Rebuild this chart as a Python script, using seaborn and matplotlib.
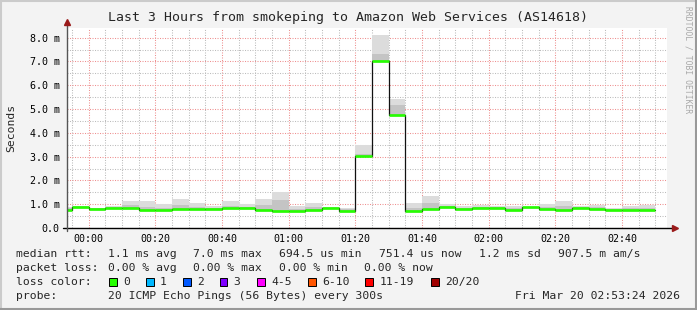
import matplotlib
matplotlib.use("Agg")
import matplotlib.pyplot as plt
import seaborn as sns
import pandas as pd
from matplotlib.lines import Line2D
from matplotlib.patches import Rectangle

# ---------------- data (minutes relative to 00:00, RTT in ms) ----------------
step_start = [-10, -5, 0, 5, 10, 15, 20, 25, 30, 35, 40, 45, 50, 55, 60, 65, 70, 75,
              80, 85, 90, 95, 100, 105, 110, 115, 120, 125, 130, 135, 140, 145, 150,
              155, 160, 165]
data_end = 170
median_ms = [0.77, 0.87, 0.78, 0.83, 0.83, 0.74, 0.74, 0.78, 0.78, 0.78, 0.83, 0.83,
             0.74, 0.70, 0.70, 0.74, 0.83, 0.70, 3.01, 7.00, 4.73, 0.70, 0.78, 0.87,
             0.78, 0.83, 0.83, 0.74, 0.87, 0.78, 0.74, 0.83, 0.78, 0.74, 0.74, 0.74]
smoke_mid_ms = [0.84, 0.89, 0.82, 0.88, 0.95, 0.90, 0.86, 0.98, 0.90, 0.86, 0.94, 0.90,
                0.95, 1.18, 0.80, 0.90, 0.86, 0.78, 3.12, 7.30, 5.17, 0.85, 1.05, 0.94,
                0.86, 0.89, 0.87, 0.84, 0.89, 0.90, 0.92, 0.87, 0.87, 0.79, 0.82, 0.84]
smoke_hi_ms = [0.90, 0.92, 0.85, 0.94, 1.12, 1.15, 1.00, 1.23, 1.06, 0.94, 1.12, 1.00,
               1.23, 1.50, 0.92, 1.06, 0.88, 0.85, 3.47, 8.10, 5.43, 1.06, 1.33, 1.02,
               0.94, 0.95, 0.92, 0.91, 0.90, 1.02, 1.12, 0.92, 0.95, 0.83, 0.91, 0.95]

x_major = [0, 20, 40, 60, 80, 100, 120, 140, 160]
x_labels = ["00:00", "00:20", "00:40", "01:00", "01:20", "01:40", "02:00", "02:20", "02:40"]
x_minor = [-5, 5, 10, 15, 25, 30, 35, 45, 50, 55, 65, 70, 75, 85, 90, 95, 105, 110,
           115, 125, 130, 135, 145, 150, 155, 165, 170]
y_major = [0, 1, 2, 3, 4, 5, 6, 7, 8]
y_labels = ["0.0", "1.0 m", "2.0 m", "3.0 m", "4.0 m", "5.0 m", "6.0 m", "7.0 m", "8.0 m"]
y_minor = [0.5, 1.5, 2.5, 3.5, 4.5, 5.5, 6.5, 7.5, 8.0]

title = "Last 3 Hours from smokeping to Amazon Web Services (AS14618)"
rtt_stats = ["1.1 ms avg", "7.0 ms max", "694.5 us min", "751.4 us now", "1.2 ms sd",
             "907.5 m am/s"]
loss_stats = ["0.00 % avg", "0.00 % max", "0.00 % min", "0.00 % now"]
loss_labels = ["0", "1", "2", "3", "4-5", "6-10", "11-19", "20/20"]
loss_colors = ["#26ff00", "#00b8ff", "#0059ff", "#7e00ff", "#ff00ff", "#ff5500",
               "#ff0000", "#a00000"]
probe_text = "20 ICMP Echo Pings (56 Bytes) every 300s"
stamp_text = "Fri Mar 20 02:53:24 2026"

# ---------------- figure ----------------
W, H = 697, 310
sns.set_theme(style="white")
plt.rcParams["font.family"] = ["DejaVu Sans Mono", "DejaVu Sans"]

fig = plt.figure(figsize=(W / 100, H / 100), dpi=100, facecolor="#f3f3f3")
ax = fig.add_axes([66.7 / W, 1 - 228 / H, 600 / W, 200 / H])
ax.set_facecolor("white")
ax.set_xlim(-6.6, 173.4)
ax.set_ylim(0, 200 / 23.8)
ax.set_axisbelow(True)

edges = step_start + [data_end]
med_ext = median_ms + [median_ms[-1]]
mid_ext = smoke_mid_ms + [smoke_mid_ms[-1]]
hi_ext = smoke_hi_ms + [smoke_hi_ms[-1]]

ax.fill_between(edges, med_ext, hi_ext, step="post", color="#dcdcdc", lw=0, zorder=2)
ax.fill_between(edges, med_ext, mid_ext, step="post", color="#c4c4c4", lw=0, zorder=2)

df = pd.DataFrame({"t": edges, "rtt": med_ext})
sns.lineplot(data=df, x="t", y="rtt", drawstyle="steps-post", color="#111111",
             lw=0.9, ax=ax, zorder=3)
step_end = step_start[1:] + [data_end]
ax.hlines(median_ms, step_start, step_end, color=loss_colors[0], lw=1.9, zorder=4)

ax.set_xlabel("")
ax.set_ylabel("")

# ticks and grid
ax.set_xticks(x_major, labels=x_labels)
ax.set_xticks(x_minor, minor=True)
ax.set_yticks(y_major, labels=y_labels)
ax.set_yticks(y_minor, minor=True)
ax.grid(which="minor", color="#bcbcbc", ls=(0, (1, 1.4)), lw=0.75)
ax.grid(which="major", color="#ee9090", ls=(0, (1, 1.4)), lw=0.75)
ax.tick_params(axis="both", which="both", labelsize=7.2, color="#777777",
               labelcolor="black", direction="out", width=0.7)
ax.tick_params(axis="x", which="major", length=2, pad=2.5)
ax.tick_params(axis="x", which="minor", length=1.5)
ax.tick_params(axis="y", which="major", length=2, pad=3.0)
ax.tick_params(axis="y", which="minor", length=0)
for s in ax.spines.values():
    s.set_visible(False)

# axis lines with arrows
ax.plot([-0.006, 1.010], [0, 0], transform=ax.transAxes, color="black", lw=1.0,
        clip_on=False, zorder=6)
ax.plot([0, 0], [-0.015, 1.025], transform=ax.transAxes, color="#555555", lw=1.0,
        clip_on=False, zorder=6)
ax.plot([1.013], [0], transform=ax.transAxes, marker=">", ms=4.5, color="#9a1a1a",
        clip_on=False, zorder=7)
ax.plot([0], [1.03], transform=ax.transAxes, marker="^", ms=4.5, color="#9a1a1a",
        clip_on=False, zorder=7)


def ftext(x, y, s, **kw):
    kw.setdefault("ha", "left")
    kw.setdefault("va", "center")
    kw.setdefault("fontsize", 8.2)
    fig.text(x / W, 1 - y / H, s, **kw)


ftext(348, 18, title, ha="center", fontsize=9.5)
ftext(11, 128, "Seconds", ha="center", rotation=90)
ftext(688, 60, "RRDTOOL / TOBI OETIKER", ha="center", rotation=270, fontsize=5.8,
      color="#a8a8a8")

# legend block
ftext(16, 254, "median rtt:")
for xpos, s in zip([107.6, 193, 279, 379, 479, 558], rtt_stats):
    ftext(xpos, 254, s)
ftext(16, 268, "packet loss:")
for xpos, s in zip([107.6, 193, 279, 364], loss_stats):
    ftext(xpos, 268, s)
ftext(16, 282, "loss color:")
box_x = [109, 146, 183, 220, 257, 308, 365, 431]
lab_x = [123, 160, 197, 233, 271, 322, 380, 445]
for bx, lx, lab, col in zip(box_x, lab_x, loss_labels, loss_colors):
    fig.add_artist(Rectangle((bx / W, 1 - 286 / H), 7.5 / W, 8 / H,
                             transform=fig.transFigure, facecolor=col,
                             edgecolor="black", lw=0.7))
    ftext(lx, 282, lab)
ftext(16, 296, "probe:")
ftext(107.6, 296, probe_text)
ftext(680, 296, stamp_text, ha="right")

# 3D-ish frame
fig.add_artist(Line2D([0, 1], [1 - 1 / H, 1 - 1 / H], transform=fig.transFigure,
                      color="#cbcbcb", lw=1.5))
fig.add_artist(Line2D([1 / W, 1 / W], [0, 1], transform=fig.transFigure,
                      color="#cbcbcb", lw=1.5))
fig.add_artist(Line2D([0, 1], [1 / H, 1 / H], transform=fig.transFigure,
                      color="#999999", lw=1.5))
fig.add_artist(Line2D([1 - 1 / W, 1 - 1 / W], [0, 1], transform=fig.transFigure,
                      color="#999999", lw=1.5))

fig.savefig("out.png", dpi=100, facecolor=fig.get_facecolor())
